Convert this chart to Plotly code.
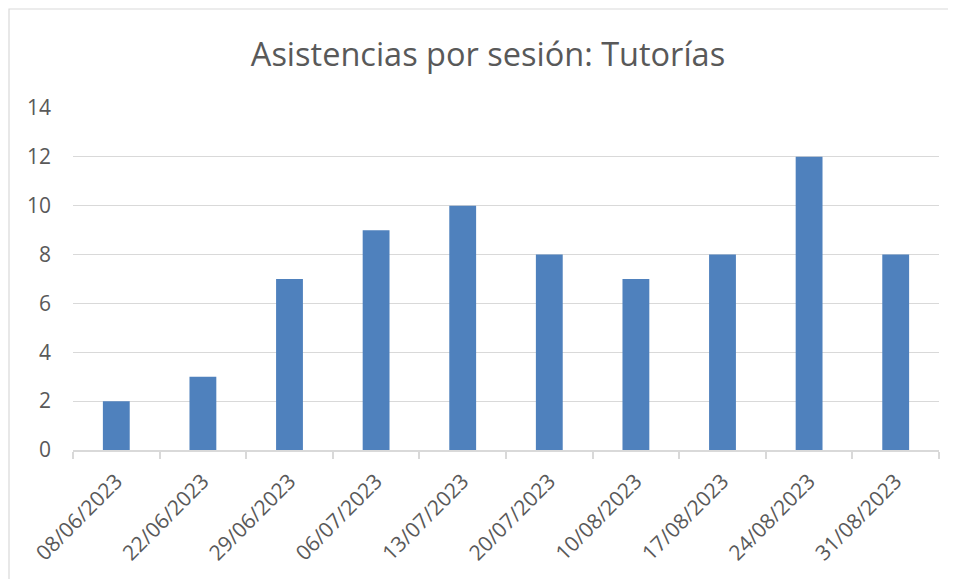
import plotly.graph_objects as go

# sesiones y asistencias
fechas = ["08/06/2023", "22/06/2023", "29/06/2023", "06/07/2023", "13/07/2023",
          "20/07/2023", "10/08/2023", "17/08/2023", "24/08/2023", "31/08/2023"]
asistencias = [2, 3, 7, 9, 10, 8, 7, 8, 12, 8]
y_ticks = [0, 2, 4, 6, 8, 10, 12, 14]

# la página se dibuja con 8px de margen del body
OFF = 8
W, H = 956 - OFF, 579 - OFF
L, R, T, B = 73 - OFF, 17, 108 - OFF, 129
pw, ph = W - L - R, H - T - B

fig = go.Figure()
fig.add_trace(go.Bar(x=fechas, y=asistencias, marker_color="#4F81BD",
                     marker_line_width=0))

fig.update_layout(
    width=W, height=H,
    margin=dict(l=L, r=R, t=T, b=B),
    paper_bgcolor="white", plot_bgcolor="white",
    font=dict(family="Open Sans, sans-serif", color="#595959", size=21),
    bargap=0.69,
    showlegend=False,
    title=dict(text="Asistencias por sesión: Tutorías", x=(488 - OFF) / W,
               xanchor="center", y=1 - (55 - OFF) / H, yanchor="middle",
               font=dict(size=32.5, color="#595959")),
)
fig.update_xaxes(type="category", tickangle=-45, showgrid=False,
                 showline=True, linecolor="#d9d9d9", linewidth=1.5,
                 ticks="outside", tickson="boundaries", ticklen=7,
                 tickcolor="#d9d9d9", tickwidth=1.5, ticklabelstandoff=9)
fig.update_yaxes(range=[0, 14], tickvals=y_ticks, showgrid=True,
                 gridcolor="#d9d9d9", gridwidth=1.2, zeroline=False,
                 showline=False, ticklabelstandoff=21)

# marco del gráfico
fig.add_shape(type="rect", xref="paper", yref="paper",
              x0=(9 - 73) / pw, x1=(W + 5 - L) / pw,
              y0=(H - B - (H + 5)) / ph, y1=(450 - 9) / ph,
              line=dict(color="#d9d9d9", width=1.2), layer="below")

fig.write_html("out.html")
